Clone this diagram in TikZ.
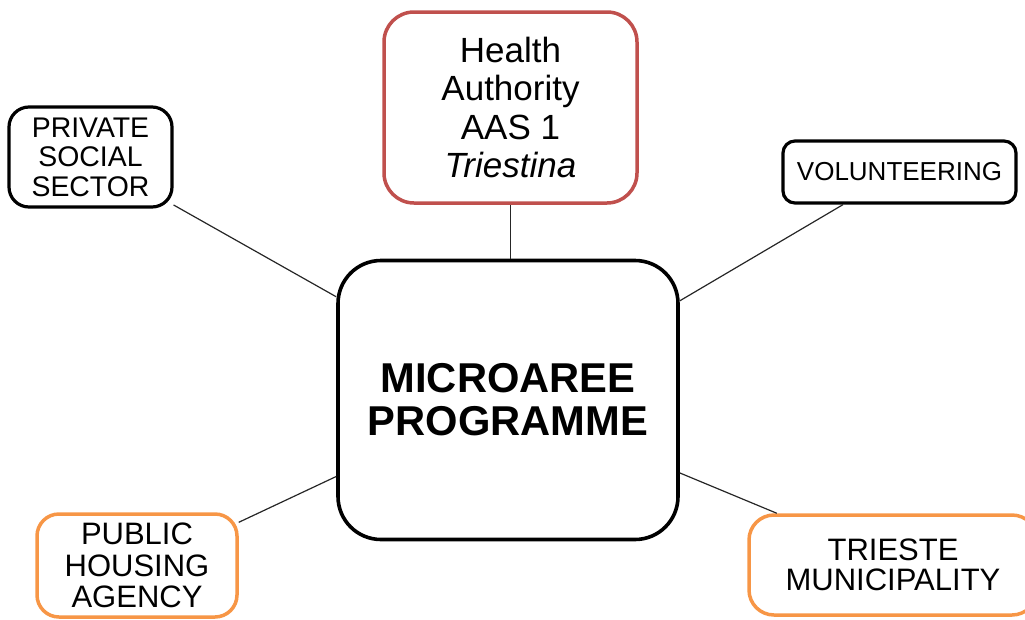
\documentclass[tikz,border=0pt]{standalone}
\usepackage{fontspec}
\setmainfont{Liberation Sans}
\definecolor{hred}{RGB}{192,80,77}
\definecolor{horange}{RGB}{247,150,70}
\begin{document}
\begin{tikzpicture}[x=1pt,y=-1pt,
  boxbase/.style={draw,fill=white,align=center,inner sep=0pt,rectangle},
  blackbox/.style={boxbase,draw=black,line width=3.2pt},
  redbox/.style={boxbase,draw=hred,line width=3.5pt},
  orangebox/.style={boxbase,draw=horange,line width=3.5pt},
  link/.style={draw=black!85,line width=1.2pt}]
\useasboundingbox (0,0) rectangle (1025,619);
\clip (0,0) rectangle (1025,619);
\node[blackbox,line width=3.6pt,minimum width=340pt,minimum height=279pt,rounded corners=43pt,
  font=\bfseries\fontsize{41.7}{43}\selectfont] (center) at (508,400) {MICROAREE\\PROGRAMME};
\node[redbox,minimum width=253pt,minimum height=191pt,rounded corners=30pt,
  font=\fontsize{35}{38.5}\selectfont] (health) at (510.5,107.5) {Health\\Authority\\AAS 1\\\textit{Triestina}};
\node[blackbox,minimum width=163pt,minimum height=100pt,rounded corners=20pt,
  font=\fontsize{28.4}{29.5}\selectfont] (private) at (90.5,157) {PRIVATE\\SOCIAL\\SECTOR};
\node[blackbox,minimum width=233pt,minimum height=62pt,rounded corners=12pt,
  font=\fontsize{26}{29}\selectfont] (volunteer) at (899.5,172) {VOLUNTEERING};
\node[orangebox,minimum width=200pt,minimum height=103pt,rounded corners=22pt,
  font=\fontsize{31}{31.5}\selectfont] (public) at (137,565.5) {PUBLIC\\HOUSING\\AGENCY};
\node[orangebox,minimum width=288pt,minimum height=100pt,rounded corners=25pt,
  font=\fontsize{31}{30}\selectfont] (trieste) at (893,565) {TRIESTE\\MUNICIPALITY};
\path[link] (health.south) -- (health.south |- center.north);
\path[link] (private.-30.5) -- (center.149.5);
\path[link] (volunteer.210.3) -- (center.30.2);
\path[link] (public.23.7) -- (center.204.4);
\path[link] (trieste.156.7) -- (center.-23.6);
\end{tikzpicture}
\end{document}
